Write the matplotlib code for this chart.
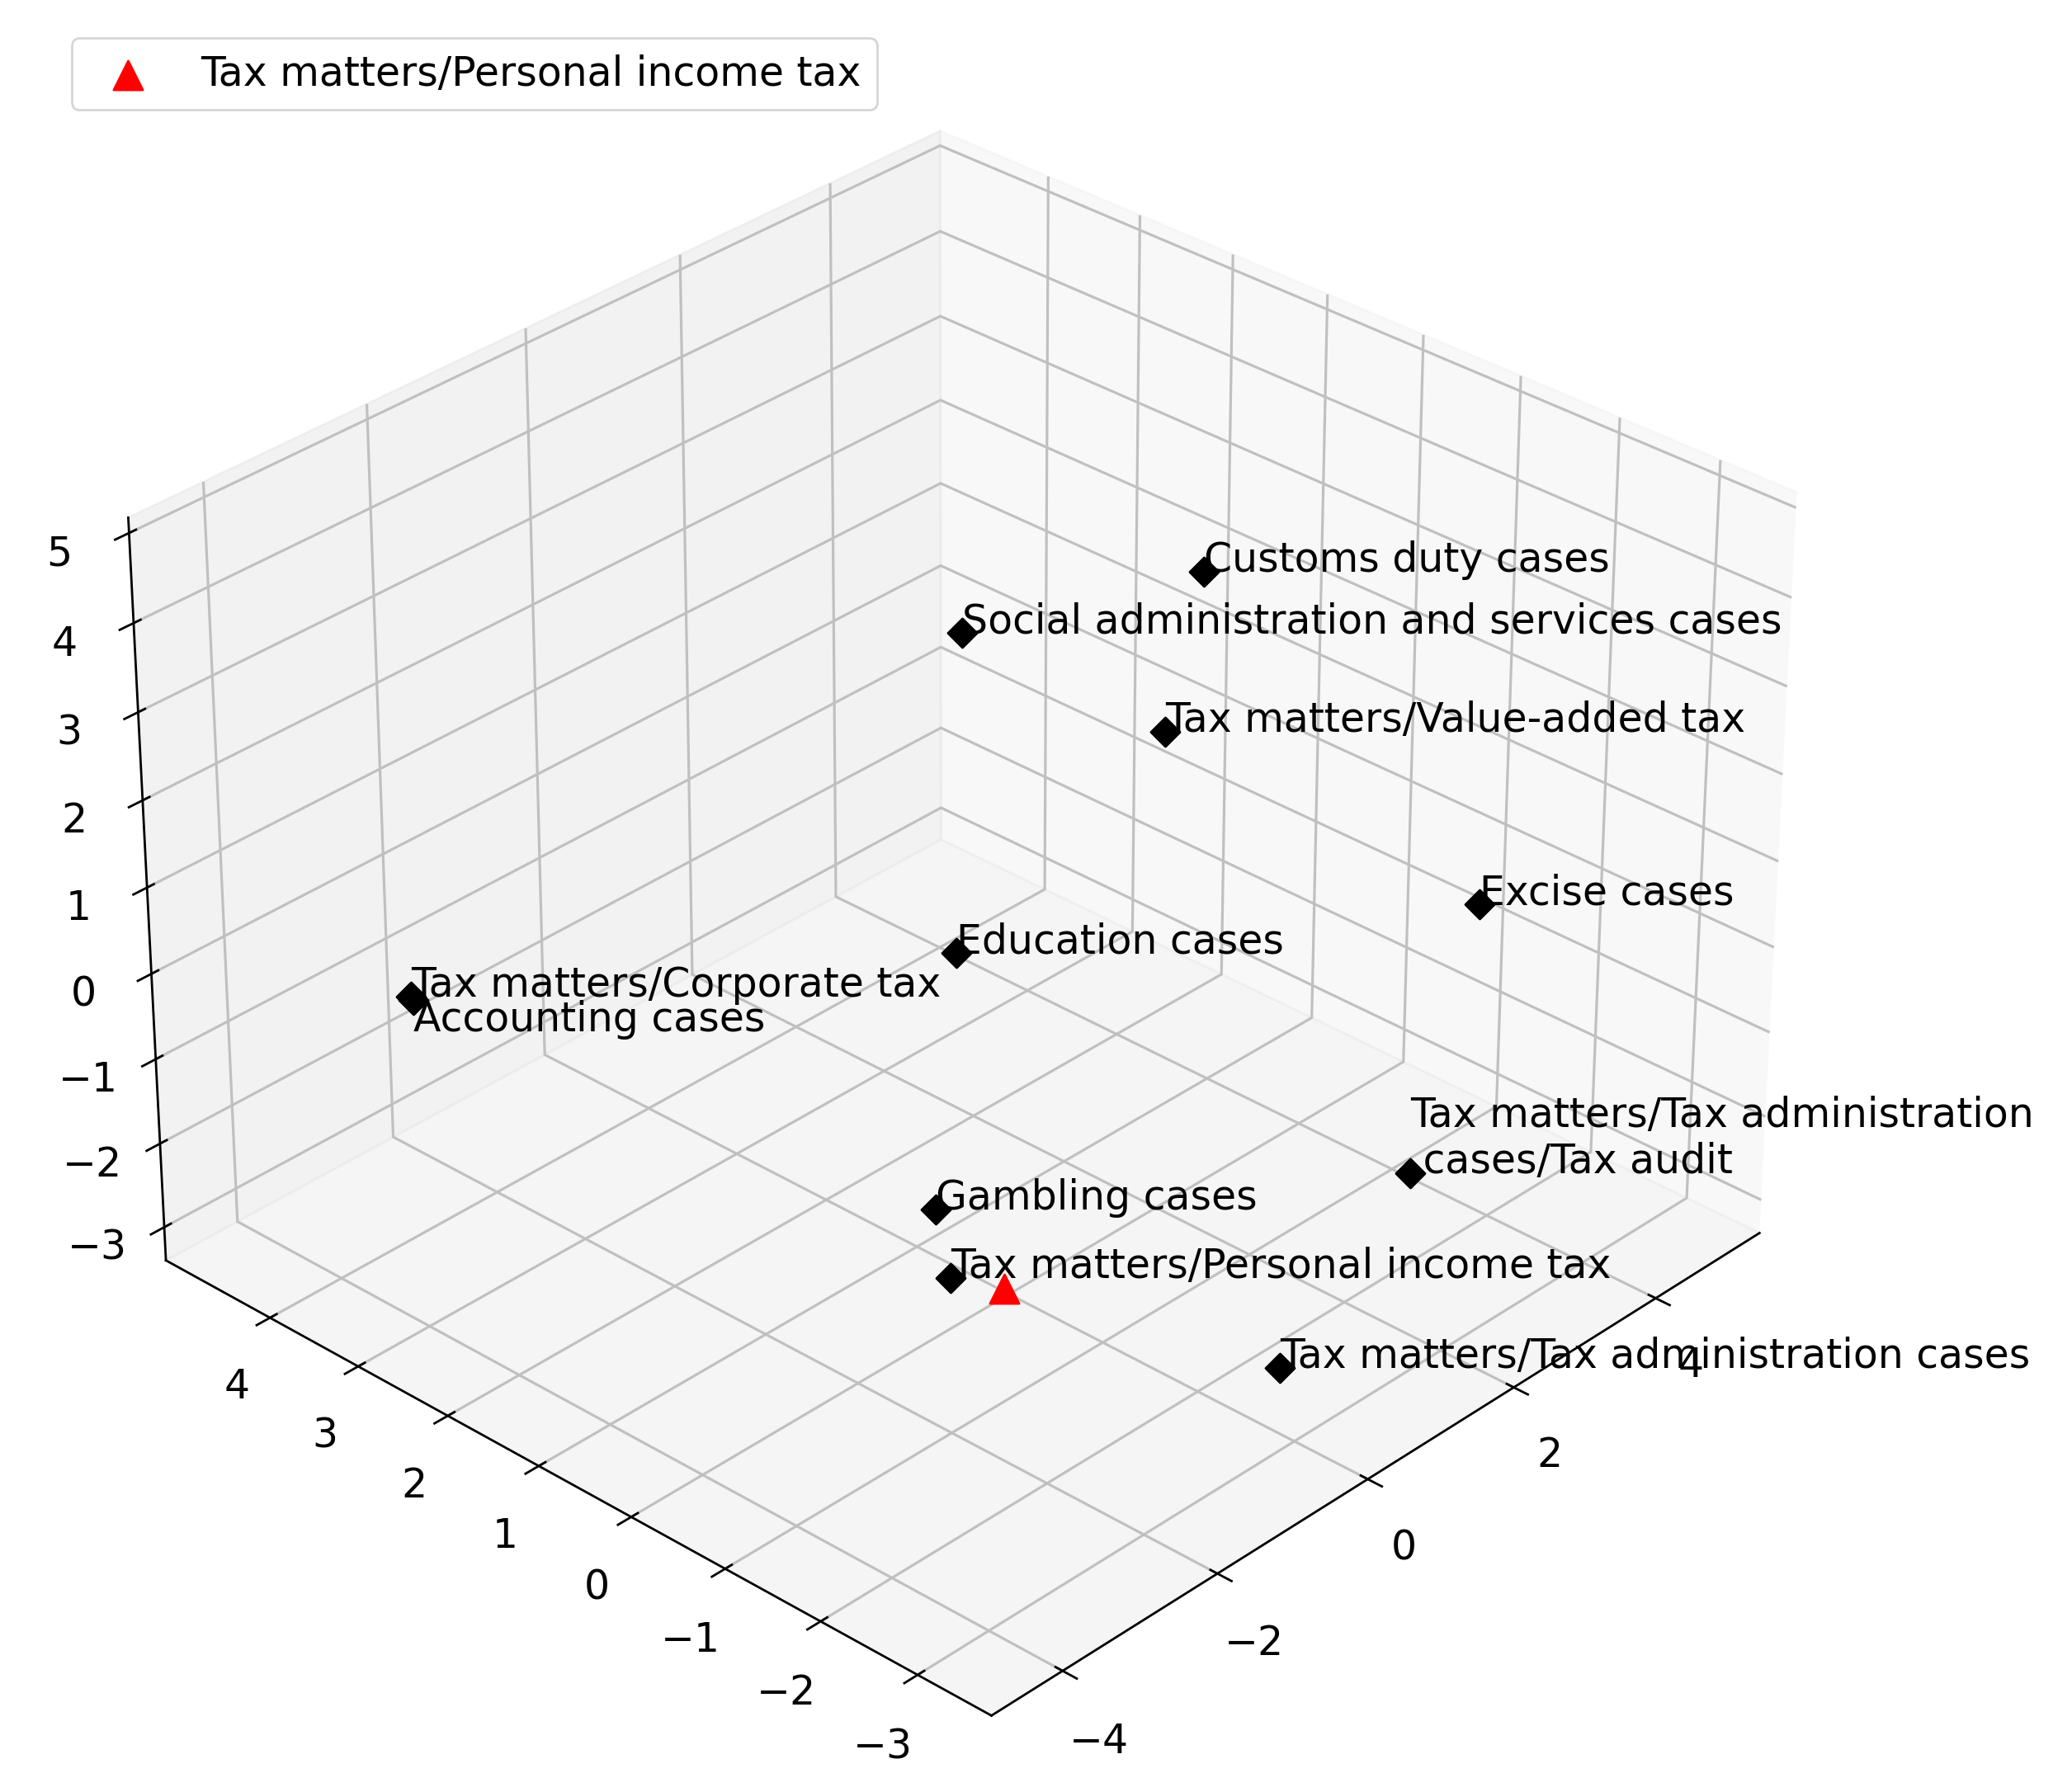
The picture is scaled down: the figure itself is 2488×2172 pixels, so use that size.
import matplotlib
matplotlib.use('Agg')
import matplotlib.pyplot as plt

labels = ['Customs duty cases', 'Social administration and services cases', 'Tax matters/Value-added tax',
          'Excise cases', 'Education cases', 'Tax matters/Corporate tax', 'Accounting cases',
          'Tax matters/Tax administration\n cases/Tax audit', 'Gambling cases',
          'Tax matters/Personal income tax', 'Tax matters/Tax administration cases']
xs = [2.15, -0.13, 0.98, 2.38, -0.85, -3.67, -3.74, 1.35, -1.47, -1.68, -0.75]
ys = [-0.30, 0.40, -0.82, -2.98, -0.12, 3.39, 3.30, -3.11, -0.40, -0.73, -3.40]
zs = [4.1, 4.1, 3.1, 1.6, 1.1, 0.1, 0.15, -0.9, -1.4, -1.9, -1.9]
query = ([-1.48], [-1.13], [-1.9])
query_label = 'Tax matters/Personal income tax'

plt.rcParams['font.size'] = 17.6
plt.rcParams['grid.linewidth'] = 1.15
plt.rcParams['grid.color'] = '#c0c0c0'
plt.rcParams['axes.linewidth'] = 1.0
plt.rcParams['xtick.major.width'] = 1.0
plt.rcParams['ytick.major.width'] = 1.0

fig = plt.figure(figsize=(12.44, 10.86), dpi=200)
ax = fig.add_axes([-0.042, -0.007, 1.0, 1.0], projection='3d')
ax.scatter(xs, ys, zs, c='k', marker='D', s=80, depthshade=False)
ax.scatter(*query, c='r', marker='^', s=160, depthshade=False, label=query_label)
for x, y, z, t in zip(xs, ys, zs, labels):
    # the Accounting label hangs below its point in the original
    ax.text(x, y, z, t, va='top' if t.startswith('Accounting') else 'baseline')

ax.set_xlim(-4.9, 5.5)
ax.set_ylim(-3.75, 5.2)
ax.set_zlim(-3.4, 5.17)
ax.set_xticks([-4, -2, 0, 2, 4])
ax.set_yticks(range(-3, 5))
ax.set_zticks(range(-3, 6))
ax.view_init(elev=31, azim=-136.8)
ax.tick_params(pad=9)

fig.legend(loc='upper left', bbox_to_anchor=(0.025, 0.99), borderpad=0.4)
fig.savefig('out.png')
